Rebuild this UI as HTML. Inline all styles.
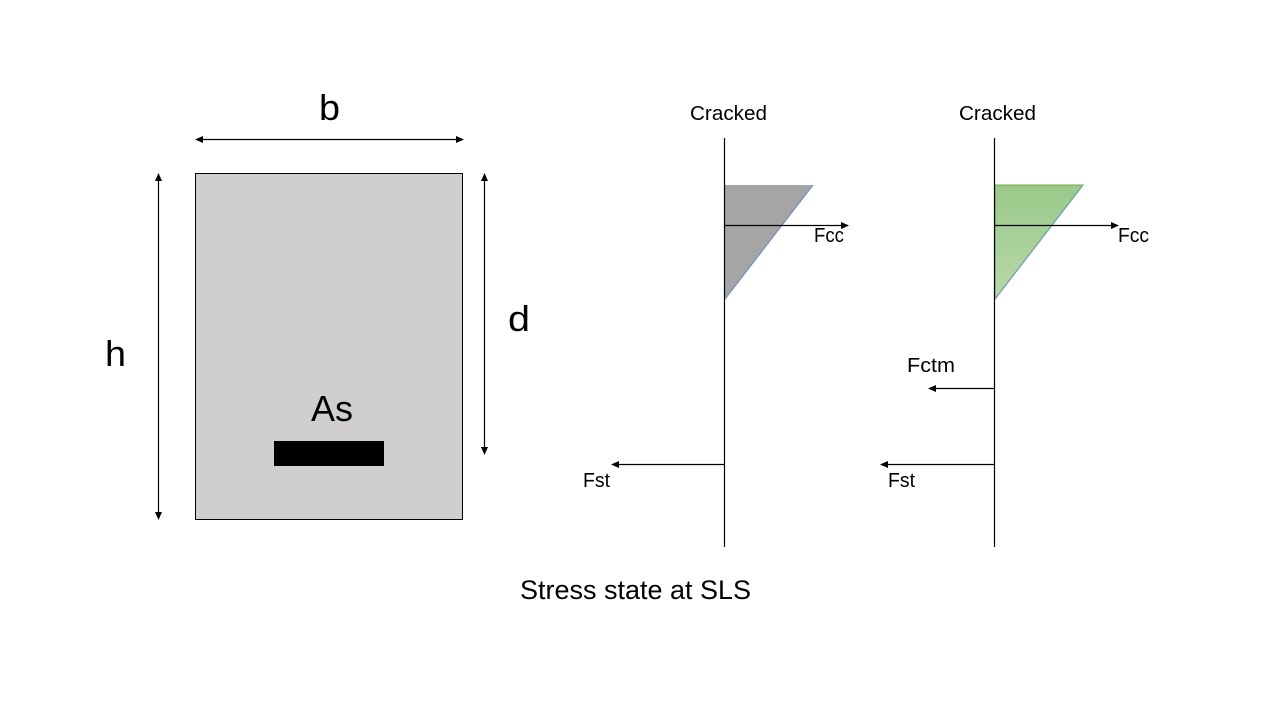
<!DOCTYPE html>
<html lang="en">
<head>
<meta charset="utf-8">
<title>Stress state at SLS</title>
<style>
html,body{margin:0;padding:0;background:#fff;width:1280px;height:720px;overflow:hidden}
svg{display:block}
text{font-family:"Liberation Sans",sans-serif;fill:#000}
line{stroke-width:1.2}
</style>
</head>
<body>
<svg width="1280" height="720" viewBox="0 0 1280 720">
<defs>
<linearGradient id="greenFill" x1="0" y1="0" x2="0" y2="1">
<stop offset="0" stop-color="#9ac98a"/>
<stop offset="1" stop-color="#b8d8aa"/>
</linearGradient>
</defs>

<!-- Cross-section -->
<rect x="195.5" y="173.5" width="267" height="346" fill="#d0cece" stroke="#000" stroke-width="1"/>
<rect x="274" y="441" width="110" height="25" fill="#000"/>
<text x="319" y="120" font-size="36" textLength="21" lengthAdjust="spacingAndGlyphs">b</text>
<text x="105" y="366" font-size="36" textLength="21" lengthAdjust="spacingAndGlyphs">h</text>
<text x="508" y="331" font-size="36" textLength="22" lengthAdjust="spacingAndGlyphs">d</text>
<text x="311" y="421" font-size="36" textLength="42" lengthAdjust="spacingAndGlyphs">As</text>

<!-- Dimension arrows -->
<g>
<line x1="200" y1="139.5" x2="458" y2="139.5" stroke="#000"/>
<polygon points="195,139.5 203,136 203,143" fill="#000"/>
<polygon points="464,139.5 456,136 456,143" fill="#000"/>
</g>
<g>
<line x1="158.5" y1="178" x2="158.5" y2="514" stroke="#000"/>
<polygon points="158.5,173 155,181 162,181" fill="#000"/>
<polygon points="158.5,520 155,512 162,512" fill="#000"/>
</g>
<g>
<line x1="484.5" y1="178" x2="484.5" y2="449" stroke="#000"/>
<polygon points="484.5,173 481,181 488,181" fill="#000"/>
<polygon points="484.5,455 481,447 488,447" fill="#000"/>
</g>

<!-- Left stress diagram -->
<g>
<polygon points="725,185 813,185 725,299" fill="#a5a5a5"/>
<line x1="725" y1="299" x2="813" y2="185" stroke="#6f8fc0"/>
<line x1="724.5" y1="138" x2="724.5" y2="547" stroke="#000"/>
<line x1="725" y1="225.5" x2="843" y2="225.5" stroke="#000"/>
<polygon points="849,225.5 841,222 841,229" fill="#000"/>
<line x1="617" y1="464.5" x2="725" y2="464.5" stroke="#000"/>
<polygon points="611,464.5 619,461 619,468" fill="#000"/>
<text x="690" y="120" font-size="20" textLength="77" lengthAdjust="spacingAndGlyphs">Cracked</text>
<text x="814" y="242" font-size="20" textLength="30" lengthAdjust="spacingAndGlyphs">Fcc</text>
<text x="583" y="487" font-size="20" textLength="27" lengthAdjust="spacingAndGlyphs">Fst</text>
</g>

<!-- Right stress diagram -->
<g>
<polygon points="995,185 1083,185 995,299" fill="url(#greenFill)" stroke="#70ad47" stroke-width="1"/>
<line x1="995" y1="299" x2="1083" y2="185" stroke="#6f9fb0"/>
<line x1="994.5" y1="138" x2="994.5" y2="547" stroke="#000"/>
<line x1="995" y1="225.5" x2="1113" y2="225.5" stroke="#000"/>
<polygon points="1119,225.5 1111,222 1111,229" fill="#000"/>
<line x1="934" y1="388.5" x2="995" y2="388.5" stroke="#000"/>
<polygon points="928,388.5 936,385 936,392" fill="#000"/>
<line x1="886" y1="464.5" x2="995" y2="464.5" stroke="#000"/>
<polygon points="880,464.5 888,461 888,468" fill="#000"/>
<text x="959" y="120" font-size="20" textLength="77" lengthAdjust="spacingAndGlyphs">Cracked</text>
<text x="1118" y="242" font-size="20" textLength="31" lengthAdjust="spacingAndGlyphs">Fcc</text>
<text x="907" y="372" font-size="20" textLength="48" lengthAdjust="spacingAndGlyphs">Fctm</text>
<text x="888" y="487" font-size="20" textLength="27" lengthAdjust="spacingAndGlyphs">Fst</text>
</g>

<text x="520" y="599" font-size="27" textLength="231" lengthAdjust="spacingAndGlyphs">Stress state at SLS</text>
</svg>
</body>
</html>
